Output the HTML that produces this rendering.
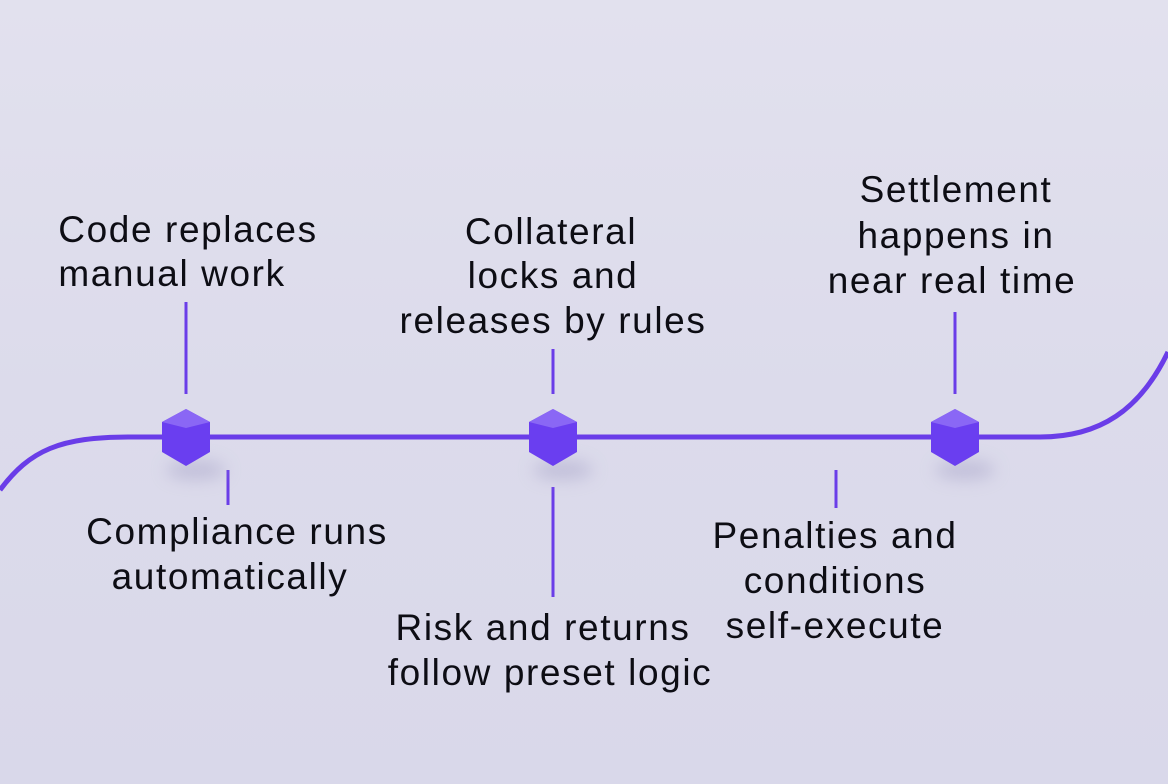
<!DOCTYPE html>
<html><head><style>
html,body{margin:0;padding:0;}
body{width:1168px;height:784px;overflow:hidden;background:linear-gradient(180deg,#e2e1ee 0%,#dcdbeb 50%,#d9d8ea 100%);}
svg{display:block;}
text{font-family:"Liberation Sans",sans-serif;font-size:37px;letter-spacing:1.6px;fill:#0d0d14;text-anchor:middle;}
</style></head><body>
<svg width="1168" height="784" viewBox="0 0 1168 784">
<defs>
<filter id="sh" x="-100%" y="-100%" width="300%" height="300%"><feGaussianBlur stdDeviation="8"/></filter>
</defs>
<path d="M0,490 C30,450 60,437 130,437 L1040,437 C1100,437 1140,410 1168,352" fill="none" stroke="#6a3de8" stroke-width="5"/>
<g stroke="#6a3de8" stroke-width="3">
<line x1="186" y1="302" x2="186" y2="394"/>
<line x1="228" y1="470" x2="228" y2="505"/>
<line x1="553" y1="349" x2="553" y2="394"/>
<line x1="553" y1="487" x2="553" y2="597"/>
<line x1="955" y1="312" x2="955" y2="394"/>
<line x1="836" y1="470" x2="836" y2="508"/>
</g>
<g>
<ellipse cx="196" cy="470" rx="30" ry="10" fill="#a9a5c9" opacity="0.5" filter="url(#sh)"/>
<ellipse cx="563" cy="470" rx="30" ry="10" fill="#a9a5c9" opacity="0.5" filter="url(#sh)"/>
<ellipse cx="965" cy="470" rx="30" ry="10" fill="#a9a5c9" opacity="0.5" filter="url(#sh)"/>
</g>
<g fill="#6a3ef0">
<polygon points="186,409 210,422 210,452 186,466 162,452 162,422"/>
<polygon points="553,409 577,422 577,452 553,466 529,452 529,422"/>
<polygon points="955,409 979,422 979,452 955,466 931,452 931,422"/>
</g>
<g fill="#8a67f5">
<polygon points="186,409 210,422 186,428 162,422"/>
<polygon points="553,409 577,422 553,428 529,422"/>
<polygon points="955,409 979,422 955,428 931,422"/>
</g>
<text x="188" y="242">Code replaces</text>
<text x="172" y="286">manual work</text>
<text x="551" y="244">Collateral</text>
<text x="553" y="288">locks and</text>
<text x="553" y="333">releases by rules</text>
<text x="956" y="202">Settlement</text>
<text x="956" y="248">happens in</text>
<text x="952" y="293">near real time</text>
<text x="237" y="544">Compliance runs</text>
<text x="230" y="589">automatically</text>
<text x="543" y="640">Risk and returns</text>
<text x="550" y="685">follow preset logic</text>
<text x="835" y="548">Penalties and</text>
<text x="835" y="593">conditions</text>
<text x="835" y="638">self-execute</text>
</svg>
</body></html>
